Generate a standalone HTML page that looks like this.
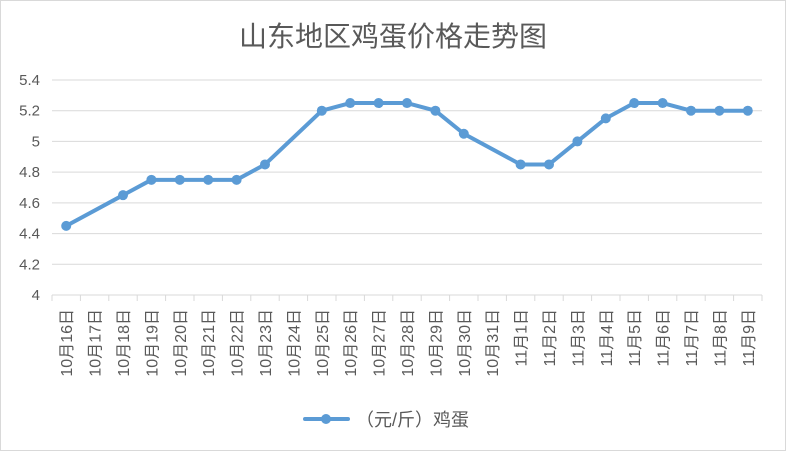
<!DOCTYPE html>
<html><head><meta charset="utf-8"><style>
body{margin:0;background:#fff;}
svg{display:block;font-family:"Liberation Sans","Noto Sans CJK SC",sans-serif;}
</style></head><body>
<svg id="chart" width="786" height="451" viewBox="0 0 786 451" xmlns="http://www.w3.org/2000/svg">
<rect x="0.5" y="0.5" width="785" height="450" fill="#fff" stroke="#d9d9d9"/>
<text x="393" y="46" text-anchor="middle" font-size="28" fill="#595959">山东地区鸡蛋价格走势图</text>
<g id="grid"></g><g id="yl"></g><g id="xl"></g><g id="series"></g>
<g>
<line x1="305" y1="419" x2="348" y2="419" stroke="#5b9bd5" stroke-width="4" stroke-linecap="round"/>
<circle cx="326" cy="419" r="5" fill="#5b9bd5"/>
<text x="356" y="426" font-size="18" fill="#595959">（元/斤）鸡蛋</text>
</g>
</svg>
<script>
const categories=["10月16日","10月17日","10月18日","10月19日","10月20日","10月21日","10月22日","10月23日","10月24日","10月25日","10月26日","10月27日","10月28日","10月29日","10月30日","10月31日","11月1日","11月2日","11月3日","11月4日","11月5日","11月6日","11月7日","11月8日","11月9日"];
const prices=[4.45,null,4.65,4.75,4.75,4.75,4.75,4.85,null,5.2,5.25,5.25,5.25,5.2,5.05,null,4.85,4.85,5.0,5.15,5.25,5.25,5.2,5.2,5.2];
const yTicks=[4,4.2,4.4,4.6,4.8,5,5.2,5.4];
const yTickLabels=["4","4.2","4.4","4.6","4.8","5","5.2","5.4"];
const NS="http://www.w3.org/2000/svg";
const L=52,R=762,T=80,B=295,yMin=4,yMax=5.4;
const bw=(R-L)/categories.length;
const x=i=>L+bw*(i+0.5);
const y=v=>B-(v-yMin)/(yMax-yMin)*(B-T);
function mk(t,a,p){const e=document.createElementNS(NS,t);for(const k in a)e.setAttribute(k,a[k]);p.appendChild(e);return e;}
const grid=document.getElementById('grid'),yl=document.getElementById('yl'),xl=document.getElementById('xl'),ser=document.getElementById('series');
yTicks.forEach((v,i)=>{
 const g=mk('line',{x1:L,x2:R,y1:y(v),y2:y(v),stroke:'#d9d9d9','stroke-width':1},grid);
 
 
 const t=mk('text',{x:40,y:y(v)+5,'text-anchor':'end','font-size':15,fill:'#595959'},yl);
 t.textContent=yTickLabels[i];
 
 
});
for(let i=0;i<=categories.length;i++){
 const tk=mk('line',{x1:L+bw*i,x2:L+bw*i,y1:B,y2:B+6,stroke:'#d9d9d9'},grid);
 
 
}
categories.forEach((c,i)=>{
 const t=mk('text',{x:0,y:0,'text-anchor':'end','font-size':16,fill:'#595959',transform:`translate(${x(i)+6},309) rotate(-90)`},xl);
 t.textContent=c;
 
 
});
const pts=[];prices.forEach((v,i)=>{if(v!=null)pts.push([x(i),y(v)]);});
const pl=mk('polyline',{points:pts.map(p=>p.join(',')).join(' '),fill:'none',stroke:'#5b9bd5','stroke-width':4,'stroke-linejoin':'round','stroke-linecap':'round'},ser);


prices.forEach((v,i)=>{if(v==null)return;
 const c=mk('circle',{cx:x(i),cy:y(v),r:5,fill:'#5b9bd5'},ser);
 
 
});
</script>
</body></html>
